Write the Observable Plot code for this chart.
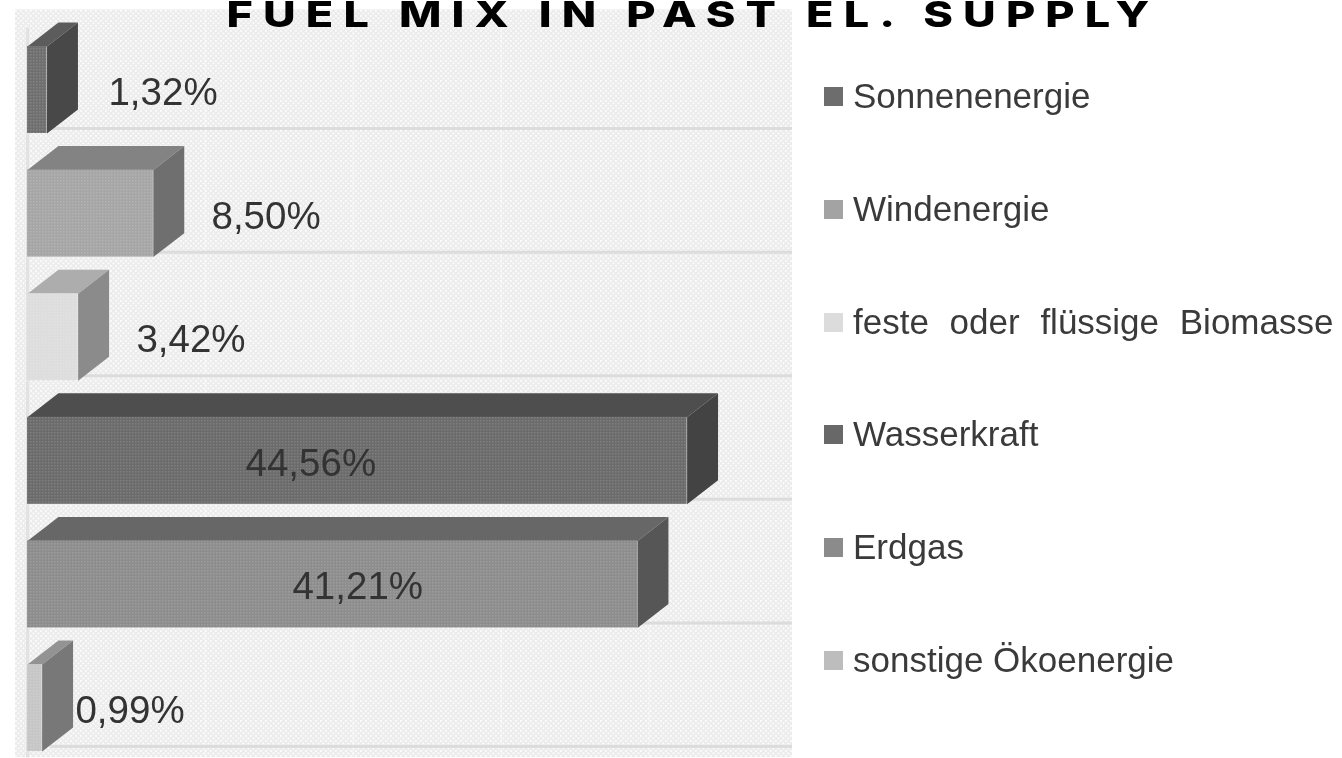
<!DOCTYPE html>
<html lang="de">
<head>
<meta charset="utf-8">
<script src="https://cdn.jsdelivr.net/npm/d3@7"></script>
<script src="https://cdn.jsdelivr.net/npm/@observablehq/plot@0.6"></script>
<style>
html,body{margin:0;padding:0;background:#fff;overflow:hidden}
#wrap{position:relative;width:1342px;height:758px;overflow:hidden}
#title{position:absolute;left:200px;top:0;width:986px;text-align:center;margin:0;font:800 36px/29px Inter,"Open Sans",sans-serif;letter-spacing:8.1px;color:#000;white-space:nowrap;transform:scaleX(1.25);transform-origin:50% 0}
#legend{position:absolute;left:824px;top:0;font-family:"Liberation Sans",Arial,sans-serif;font-size:35px;color:#3a3a3a;filter:blur(.6px)}
#legend div{position:absolute;left:0;white-space:nowrap;display:flex;align-items:center;transform:translateY(-50%)}
#legend i{display:inline-block;width:19px;height:19px;margin-right:10px}
</style>
</head>
<body>
<div id="wrap">
<div id="chart"></div>
<h1 id="title">FUEL MIX IN PAST EL. SUPPLY</h1>
<div id="legend"></div>
</div>
<script>
const categories = ["Sonnenenergie","Windenergie","feste oder flüssige Biomasse","Wasserkraft","Erdgas","sonstige Ökoenergie"];
const values     = [1.32, 8.50, 3.42, 44.56, 41.21, 0.99];
const valueLabels= ["1,32%","8,50%","3,42%","44,56%","41,21%","0,99%"];
const labelAt    = [5.47, 12.43, 7.36, 14.73, 17.9, 3.24];
const frontColors= ["#6f6f6f","#a6a6a6","#dddddd","#6b6b6b","#8d8d8d","#c6c6c6"];
const topColors  = ["#5c5c5c","#838383","#adadad","#4e4e4e","#676767","#939393"];
const sideColors = ["#484848","#6f6f6f","#8b8b8b","#434343","#565656","#787878"];
const legendColors=["#6d6d6d","#a3a3a3","#dcdcdc","#686868","#8b8b8b","#bdbdbd"];
const legendRows = [96,209,322,434,547,660];
const wordGaps   = [0,0,11,0,0,0];
const gridTicks  = [12,22,32,42];
const depthX = 2.09, depthY = 0.194, frontTop = 0.296;

const rows = values.map((v,i)=>({i,v,cat:categories[i],label:valueLabels[i],at:labelAt[i],
  t:i+frontTop,b:i+1,front:frontColors[i],top:topColors[i],side:sideColors[i]}));
const topFace = rows.flatMap(r=>[[0,r.t],[r.v,r.t],[r.v+depthX,r.t-depthY],[depthX,r.t-depthY]].map(([x,y])=>({x,y,id:r.i,c:r.top})));
const sideFace = rows.flatMap(r=>[[r.v,r.t],[r.v+depthX,r.t-depthY],[r.v+depthX,r.b-depthY],[r.v,r.b],[r.v,r.t]].map(([x,y])=>({x,y,id:r.i,c:r.side})));
const wall = rows.flatMap(r=>[[0,r.b],[depthX*.75,r.b-depthY*.75]].map(([x,y])=>({x,y,id:r.i})));

const defs = () => {
  const d = d3.create("svg:defs");
  const p = d.append("pattern").attr("id","dots").attr("width",5).attr("height",5).attr("patternUnits","userSpaceOnUse");
  p.append("rect").attr("x",0).attr("y",0).attr("width",1.8).attr("height",1.8).attr("fill","#fff");
  p.append("rect").attr("x",2.5).attr("y",2.5).attr("width",1.8).attr("height",1.8).attr("fill","#fff");
  const q = d.append("pattern").attr("id","fine").attr("width",3).attr("height",3).attr("patternUnits","userSpaceOnUse");
  q.append("rect").attr("width",1.5).attr("height",1.5).attr("fill","#fff");
  return d.node();
};
const blur = "blur(0.6px)";
const plot = Plot.plot({
  width:1342, height:758, margin:0,
  style:{background:"transparent",fontFamily:"Liberation Sans, Arial, sans-serif"},
  x:{domain:[-0.81,51.68],range:[15,792],axis:null},
  y:{domain:[0,6.05],range:[9.4,757.2],axis:null},
  color:{type:"identity"},
  marks:[
    defs,
    Plot.rect([0],{x1:-0.81,x2:51.68,y1:0,y2:6.05,fill:"#ececec"}),
    Plot.rect([0],{x1:-0.81,x2:51.68,y1:0,y2:6.05,fill:"url(#dots)",fillOpacity:.85}),
    Plot.ruleX(gridTicks,{y1:0,y2:6.05,stroke:"#fff",strokeWidth:1.5,strokeOpacity:.35}),
    Plot.ruleY(rows,{y:d=>d.b-0.04,x1:depthX*.75,x2:51.68,stroke:"#dcdcdc",strokeWidth:3,imageFilter:blur}),
    Plot.ruleX([0],{y1:0.15,y2:6.05,stroke:"#e2e2e2",strokeWidth:3}),
    Plot.line(wall,{x:"x",y:"y",z:"id",stroke:"#e6e6e6",strokeWidth:3}),
    Plot.line(topFace,{x:"x",y:"y",z:"id",fill:"c",stroke:null,curve:"linear-closed",imageFilter:blur}),
    Plot.line(sideFace,{x:"x",y:"y",z:"id",fill:"c",stroke:null,curve:"linear-closed",imageFilter:blur}),
    Plot.rect(rows,{x1:0,x2:"v",y1:"t",y2:"b",fill:"front",imageFilter:blur}),
    Plot.rect(rows,{x1:0,x2:"v",y1:"t",y2:"b",fill:"url(#fine)",fillOpacity:.14}),
    Plot.text(rows,{x:"at",y:d=>d.i+0.67,text:"label",textAnchor:"start",fontSize:38.5,fill:"#333",imageFilter:"blur(0.6px)"})
  ]
});
document.getElementById("chart").appendChild(plot);

const legend = document.getElementById("legend");
categories.forEach((c,i)=>{
  const row = document.createElement("div");
  row.style.top = legendRows[i]+"px";
  row.style.wordSpacing = wordGaps[i]+"px";
  const sw = document.createElement("i");
  sw.style.background = legendColors[i];
  row.appendChild(sw);
  row.appendChild(document.createTextNode(c));
  legend.appendChild(row);
});
</script>
</body>
</html>
